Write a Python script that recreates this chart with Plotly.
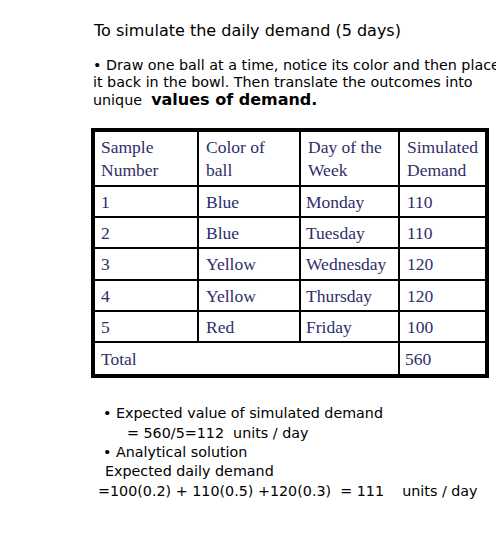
import plotly.graph_objects as go

header = ["Sample<br>Number", "Color of<br>ball", "Day of the<br>Week", "Simulated<br>Demand"]
sample = ["1", "2", "3", "4", "5"]
color = ["Blue", "Blue", "Yellow", "Yellow", "Red"]
day = ["Monday", "Tuesday", "Wednesday", "Thursday", "Friday"]
demand = [110, 110, 120, 120, 100]
total_label = "Total"
total = 560

col_edges = [93, 198, 300, 399, 487]
row_edges = [130, 186, 217, 248, 280, 311, 342, 376]
ink = "#2e2e6a"
serif = "Liberation Serif"
sans = "DejaVu Sans"

fig = go.Figure()
ann = []
shapes = []

def txt(x, y, s, size=17.5, fam=serif, col=ink, **kw):
    ann.append(dict(x=x, y=y, text=s, showarrow=False, xanchor="left", yanchor="middle",
                    font=dict(family=fam, size=size, color=col), xref="x", yref="y", **kw))

for j, h in enumerate(header):
    txt(col_edges[j] + 6, (row_edges[0] + row_edges[1]) / 2, h, align="left")
rows = list(zip(sample, color, day, [str(d) for d in demand]))
for i, r in enumerate(rows):
    yc = (row_edges[i + 1] + row_edges[i + 2]) / 2
    for j, v in enumerate(r):
        txt(col_edges[j] + 6 - (2 if j == 2 else 0), yc, v)
yc = (row_edges[-2] + row_edges[-1]) / 2
txt(col_edges[0] + 6, yc, total_label)
txt(col_edges[3] + 4, yc, str(total))

for y in row_edges[1:-1]:
    shapes.append(dict(type="line", x0=col_edges[0], x1=col_edges[-1], y0=y, y1=y,
                       line=dict(color="black", width=2)))
for j, x in enumerate(col_edges[1:-1]):
    y_end = row_edges[-2] if j < 2 else row_edges[-1]
    shapes.append(dict(type="line", x0=x, x1=x, y0=row_edges[0], y1=y_end,
                       line=dict(color="black", width=2)))
shapes.append(dict(type="rect", x0=col_edges[0], x1=col_edges[-1], y0=row_edges[0], y1=row_edges[-1],
                   line=dict(color="black", width=4)))
for s in shapes:
    s.update(xref="x", yref="y")

txt(91, 30, "To simulate the daily demand (5 days)", size=16, fam=sans, col="black")
txt(91, 65, "• Draw one ball at a time, notice its color and then place", size=14.3, fam=sans, col="black")
txt(91, 82, "it back in the bowl. Then translate the outcomes into", size=14.3, fam=sans, col="black")
txt(91, 99, "unique  <b><span style='font-size:16px'>values of demand.</span></b>", size=14.3, fam=sans, col="black")
txt(101, 413, "• Expected value of simulated demand", size=14.3, fam=sans, col="black")
txt(125, 433, "= 560/5=112  units / day", size=14.3, fam=sans, col="black")
txt(101, 452, "• Analytical solution", size=14.3, fam=sans, col="black")
txt(103, 471, "Expected daily demand", size=14.3, fam=sans, col="black")
txt(96, 491, "=100(0.2) + 110(0.5) +120(0.3)  = 111    units / day", size=14.3, fam=sans, col="black")

fig.update_layout(width=504, height=540, margin=dict(l=0, r=0, t=0, b=0),
                  paper_bgcolor="white", plot_bgcolor="white",
                  xaxis=dict(range=[8, 512], visible=False, fixedrange=True),
                  yaxis=dict(range=[548, 8], visible=False, fixedrange=True),
                  annotations=ann, shapes=shapes, showlegend=False)
fig.write_html("out.html")
